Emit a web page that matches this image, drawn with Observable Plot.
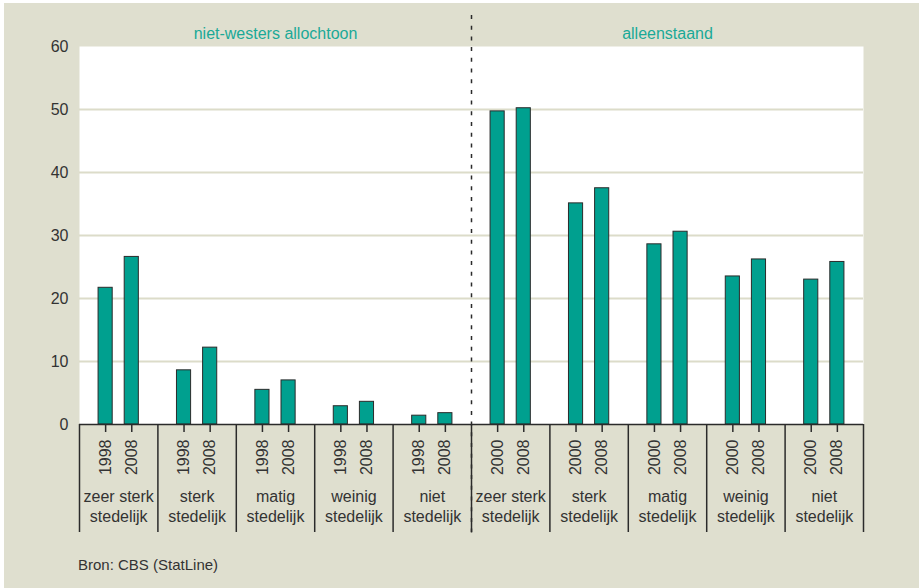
<!DOCTYPE html>
<html>
<head>
<meta charset="utf-8">
<script src="https://cdn.jsdelivr.net/npm/d3@7"></script>
<script src="https://cdn.jsdelivr.net/npm/@observablehq/plot@0.6"></script>
<style>
  html, body { margin: 0; padding: 0; background: #ffffff; }
  #box { position: absolute; left: 4px; top: 3px; width: 915px; height: 585px; background: #dfdfcf; font-family: "Liberation Sans", Arial, sans-serif; }
  #chart svg { display: block; }
  #caption { position: absolute; left: 74px; top: 553px; font-size: 15px; color: #333; }
</style>
</head>
<body>
<div id="box">
  <div id="chart"></div>
  <div id="caption">Bron: CBS (StatLine)</div>
</div>
<script>
const panels = ["niet-westers allochtoon", "alleenstaand"];
const groups = ["zeer sterk\nstedelijk", "sterk\nstedelijk", "matig\nstedelijk", "weinig\nstedelijk", "niet\nstedelijk"];
const yearsNW = ["1998", "2008"];
const yearsAL = ["2000", "2008"];
const nwFirst  = [21.7, 8.6, 5.5, 2.9, 1.4];
const nwSecond = [26.6, 12.2, 7.0, 3.6, 1.8];
const alFirst  = [49.7, 35.1, 28.6, 23.5, 23.0];
const alSecond = [50.2, 37.5, 30.6, 26.2, 25.8];
const yTicks = [0, 10, 20, 30, 40, 50, 60];

const series = [
  {panel: 0, years: yearsNW, vals: [nwFirst, nwSecond]},
  {panel: 1, years: yearsAL, vals: [alFirst, alSecond]}
];
const bars = [];
const groupRows = [];
for (const s of series) {
  groups.forEach((g, gi) => {
    const slot = (s.panel * groups.length + gi) * 3;
    groupRows.push({label: g, pos: slot + 1.5});
    [0, 1].forEach(k => bars.push({pos: slot + 1 + k, year: s.years[k], value: s.vals[k][gi]}));
  });
}
const nSlots = panels.length * groups.length * 3;
const boundaries = d3.range(0, nSlots + 1, 3);
const panelRows = panels.map((p, i) => ({label: p, pos: (i + 0.5) * nSlots / panels.length}));

const font = "Liberation Sans, Arial, sans-serif";
const dark = "#2b2b2b";

const plot = Plot.plot({
  width: 915,
  height: 555,
  marginLeft: 75,
  marginRight: 56,
  marginTop: 43,
  marginBottom: 134,
  style: {background: "transparent", fontFamily: font, fontSize: "16px", color: "#333", overflow: "visible"},
  x: {type: "linear", domain: [0, nSlots], axis: null},
  y: {domain: [0, 60], axis: null},
  marks: [
    Plot.frame({fill: "white", stroke: "none"}),
    Plot.ruleY(yTicks.filter(d => d > 0 && d < 60), {stroke: "#dcdcc9", strokeWidth: 2}),
    Plot.rectY(bars, {x1: d => d.pos - 0.5, x2: d => d.pos + 0.5, y: "value", insetLeft: 6, insetRight: 6, fill: "#00a08f", stroke: dark, strokeWidth: 1}),
    Plot.ruleY([0], {stroke: dark, strokeWidth: 1.5}),
    Plot.axisY({ticks: yTicks, tickSize: 0, tickPadding: 11, fontSize: 16, fill: "#333", label: null}),
    Plot.axisX({ticks: boundaries, tickSize: 108, tickFormat: () => "", stroke: dark, strokeWidth: 1.5, label: null}),
    Plot.axisX({ticks: bars.map(d => d.pos), tickSize: 8, tickFormat: () => "", stroke: dark, strokeWidth: 1.5, label: null}),
    Plot.text(bars, {x: "pos", text: "year", frameAnchor: "bottom", dy: 15, rotate: -90, textAnchor: "end", lineAnchor: "middle", fontSize: 16, fill: "#333"}),
    Plot.text(groupRows, {x: "pos", text: "label", frameAnchor: "bottom", dy: 63, lineAnchor: "top", lineHeight: 1.25, fontSize: 16, fill: "#333"}),
    Plot.text(panelRows, {x: "pos", text: "label", frameAnchor: "top", dy: -19, fontSize: 16, fill: "#1aa997"}),
    Plot.ruleX([boundaries[groups.length]], {stroke: dark, strokeWidth: 1.5, strokeDasharray: "4,6.7", insetTop: -31, insetBottom: -111})
  ]
});
document.getElementById("chart").appendChild(plot);
</script>
</body>
</html>
